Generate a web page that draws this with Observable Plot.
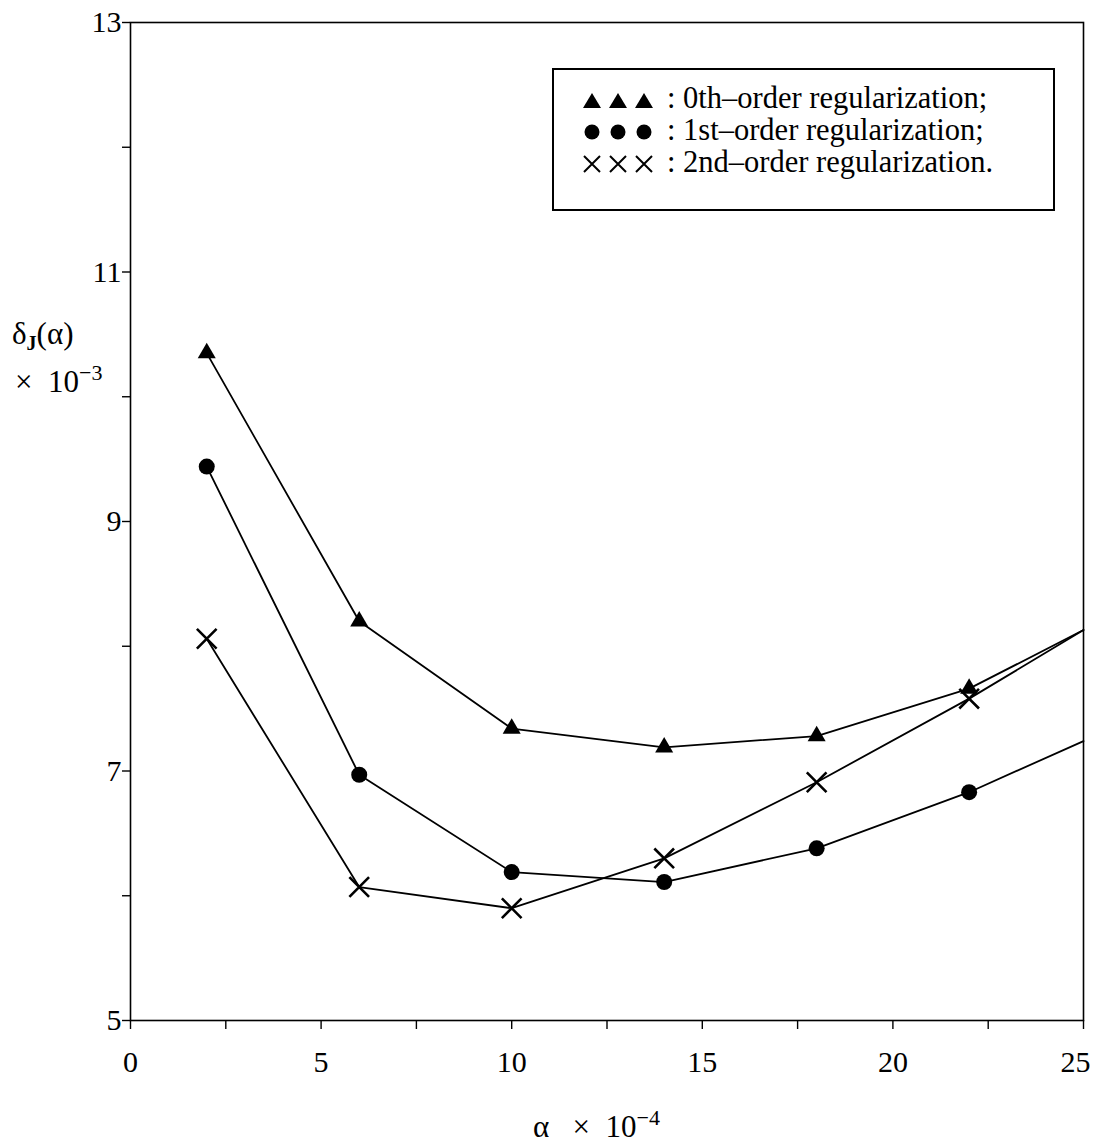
<!DOCTYPE html>
<html>
<head>
<meta charset="utf-8">
<script src="https://cdn.jsdelivr.net/npm/d3@7"></script>
<script src="https://cdn.jsdelivr.net/npm/@observablehq/plot@0.6"></script>
<style>
  html, body { margin: 0; padding: 0; background: #fff; }
  #wrap { position: relative; width: 1095px; height: 1147px; font-family: "Liberation Serif", "Times New Roman", serif; color: #000; }
  #wrap > svg { position: absolute; left: 0; top: 0; }
  .lbl { position: absolute; font-size: 31px; white-space: nowrap; line-height: 1; }
  .lbl sup { font-size: 22px; vertical-align: 0; position: relative; top: -12px; }
  .lbl sub { font-size: 20px; vertical-align: 0; position: relative; top: 6px; font-weight: bold; }
  #legend { position: absolute; left: 552px; top: 68px; width: 503px; height: 143px; border: 2px solid #000; box-sizing: border-box; background: #fff; font-size: 30.5px; }
  #legend .row { position: absolute; left: 0; width: 100%; height: 32px; }
  #legend .row svg { position: absolute; left: 29px; top: 0; }
  #legend .txt { position: absolute; left: 113px; line-height: 1; white-space: nowrap; }
</style>
</head>
<body>
<div id="wrap"></div>
<script>
// Data
const alpha = [2, 6, 10, 14, 18, 22, 25];
const order0 = [10.35, 8.20, 7.34, 7.19, 7.28, 7.66, 8.13];
const order1 = [9.44, 6.97, 6.19, 6.11, 6.38, 6.83, 7.24];
const order2 = [8.06, 6.07, 5.90, 6.30, 6.91, 7.58, 8.13];
const markedCount = 6; // the last value is where each line meets the right frame
const xTicks = [0, 2.5, 5, 7.5, 10, 12.5, 15, 17.5, 20, 22.5, 25];
const xLabels = [0, 5, 10, 15, 20];
const xLastLabel = [25];
const yTicks = [5, 6, 7, 8, 9, 10, 11, 12, 13];
const legendLabels = [": 0th–order regularization;", ": 1st–order regularization;", ": 2nd–order regularization."];

const series = [
  {name: "0th", values: order0, symbol: "triangle", r: 6.7, fill: "black", stroke: "none"},
  {name: "1st", values: order1, symbol: "circle", r: 8, fill: "black", stroke: "none"},
  {name: "2nd", values: order2, symbol: "times", r: 9, fill: "none", stroke: "black"}
];

const marks = [];
for (const s of series) {
  const rows = alpha.map((a, i) => ({x: a, y: s.values[i]}));
  marks.push(Plot.line(rows, {x: "x", y: "y", stroke: "black", strokeWidth: 1.8}));
  marks.push(Plot.dot(rows.slice(0, markedCount), {
    x: "x", y: "y", symbol: s.symbol, r: s.r, fill: s.fill,
    stroke: s.stroke, strokeWidth: s.stroke === "none" ? 0 : 2.6
  }));
}

const chart = Plot.plot({
  width: 1095,
  height: 1147,
  marginLeft: 130,
  marginRight: 12,
  marginTop: 22,
  marginBottom: 127,
  style: {fontFamily: "'Liberation Serif', 'Times New Roman', serif", fontSize: "30px", background: "white", color: "black"},
  x: {domain: [0, 25]},
  y: {domain: [5, 13]},
  marks: [
    Plot.frame({stroke: "black", strokeWidth: 1.6}),
    Plot.axisX({ticks: xTicks, tickFormat: () => "", tickSize: 9, label: null, strokeWidth: 1.4}),
    Plot.axisX({ticks: xLabels, tickSize: 0, tickPadding: 30, label: null}),
    Plot.axisX({ticks: xLastLabel, tickSize: 0, tickPadding: 30, dx: -8, label: null}),
    Plot.axisY({ticks: yTicks, tickFormat: d => d % 2 === 1 ? String(d) : "", tickSize: 8, tickPadding: 1, label: null, strokeWidth: 1.4}),
    ...marks
  ]
});

const wrap = document.getElementById("wrap");
wrap.appendChild(chart);

function addLabel(html, left, top) {
  const d = document.createElement("div");
  d.className = "lbl";
  d.innerHTML = html;
  d.style.left = left + "px";
  d.style.top = top + "px";
  wrap.appendChild(d);
}
addLabel("δ<sub>J</sub>(α)", 12, 318);
addLabel("×&nbsp;&nbsp;10<sup>−3</sup>", 15, 366);
addLabel("α&nbsp;&nbsp;&nbsp;×&nbsp;&nbsp;10<sup>−4</sup>", 533, 1111);

// Legend
const legend = document.createElement("div");
legend.id = "legend";
const symbolSvg = [
  `<svg width="72" height="32">${[9, 35, 61].map(c => `<polygon points="${c-9},30 ${c+9},30 ${c},15" fill="black"/>`).join("")}</svg>`,
  `<svg width="72" height="32">${[9, 35, 61].map(c => `<circle cx="${c}" cy="22" r="7.5" fill="black"/>`).join("")}</svg>`,
  `<svg width="72" height="32">${[9, 35, 61].map(c => `<path d="M${c-8},${14}L${c+8},${30}M${c-8},${30}L${c+8},${14}" stroke="black" stroke-width="2"/>`).join("")}</svg>`
];
legendLabels.forEach((t, i) => {
  const row = document.createElement("div");
  row.className = "row";
  row.style.top = (8 + i * 32) + "px";
  row.innerHTML = symbolSvg[i] + `<span class="txt" style="top:5px">${t}</span>`;
  legend.appendChild(row);
});
wrap.appendChild(legend);
</script>
</body>
</html>
